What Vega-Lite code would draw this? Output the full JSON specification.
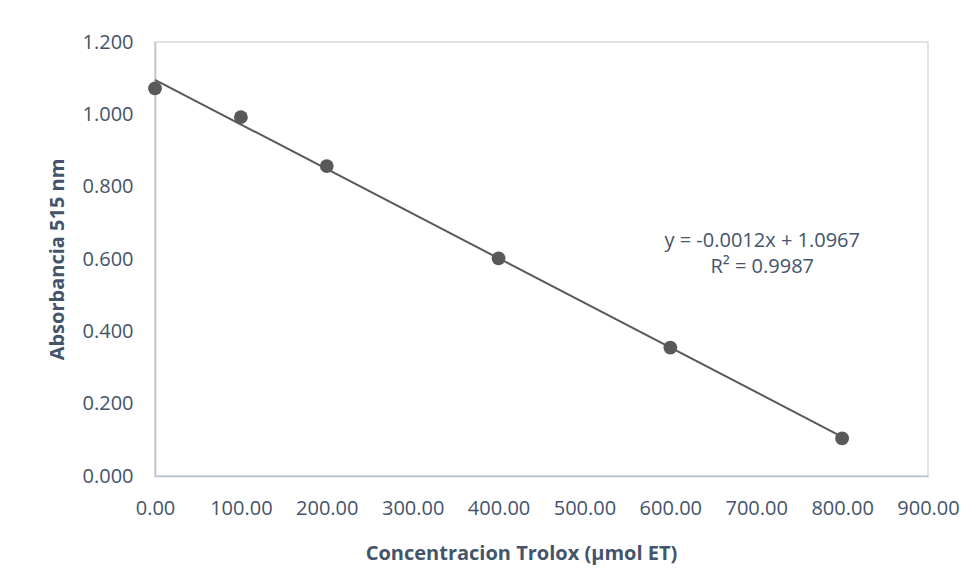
{
  "$schema": "https://vega.github.io/schema/vega-lite/v6.json",
  "width": 773,
  "height": 434,
  "autosize": {"type": "none"},
  "padding": {"left": 155, "top": 42, "right": 50, "bottom": 107},
  "background": "white",
  "config": {
    "view": {"stroke": "#d9d9d9", "strokeWidth": 1.5},
    "font": "Open Sans"
  },
  "datasets": {
    "pts": [
      {"conc": 0, "abs": 1.072},
      {"conc": 100, "abs": 0.992},
      {"conc": 200, "abs": 0.857},
      {"conc": 400, "abs": 0.602},
      {"conc": 600, "abs": 0.355},
      {"conc": 800, "abs": 0.104}
    ],
    "eq": [
      {"conc": 707, "abs": 0.650, "label": ["y = -0.0012x + 1.0967", "R² = 0.9987"]}
    ]
  },
  "layer": [
    {
      "data": {"name": "pts"},
      "transform": [{"regression": "abs", "on": "conc", "extent": [0, 800]}],
      "mark": {"type": "line", "color": "#595959", "strokeWidth": 2},
      "encoding": {
        "x": {"field": "conc", "type": "quantitative"},
        "y": {"field": "abs", "type": "quantitative"}
      }
    },
    {
      "data": {"name": "pts"},
      "mark": {"type": "circle", "color": "#595959", "opacity": 1, "size": 190},
      "encoding": {
        "x": {
          "field": "conc", "type": "quantitative",
          "scale": {"domain": [0, 900], "nice": false, "zero": false},
          "axis": {
            "title": "Concentracion Trolox (µmol ET)",
            "values": [0, 100, 200, 300, 400, 500, 600, 700, 800, 900],
            "format": ".2f",
            "grid": false, "ticks": false,
            "labelOverlap": false, "labelFlush": false, "labelBound": false,
            "domainColor": "#b7c1d3", "domainWidth": 1.5,
            "labelColor": "#44546A", "labelFontSize": 20, "labelPadding": 22,
            "labelFont": "Open Sans",
            "titleColor": "#44546A", "titleFontSize": 20, "titleFontWeight": "bold",
            "titleFont": "Open Sans",
            "titleX": 366, "titleY": 77, "titleAlign": "center", "titleBaseline": "middle"
          }
        },
        "y": {
          "field": "abs", "type": "quantitative",
          "scale": {"domain": [0, 1.2], "nice": false},
          "axis": {
            "title": "Absorbancia 515 nm",
            "values": [0, 0.2, 0.4, 0.6, 0.8, 1.0, 1.2],
            "format": ".3f",
            "grid": false, "ticks": false,
            "labelOverlap": false, "labelFlush": false, "labelBound": false,
            "domainColor": "#b7c1d3", "domainWidth": 1.5,
            "labelColor": "#44546A", "labelFontSize": 20, "labelPadding": 22,
            "labelFont": "Open Sans",
            "titleColor": "#44546A", "titleFontSize": 20, "titleFontWeight": "bold",
            "titleFont": "Open Sans",
            "titleX": -98, "titleY": 217, "titleAlign": "center", "titleBaseline": "middle"
          }
        }
      }
    },
    {
      "data": {"name": "eq"},
      "mark": {"type": "text", "color": "#44546A", "fontSize": 20, "font": "Open Sans", "align": "center", "baseline": "middle", "lineHeight": 26},
      "encoding": {
        "x": {"field": "conc", "type": "quantitative"},
        "y": {"field": "abs", "type": "quantitative"},
        "text": {"field": "label"}
      }
    }
  ]
}
